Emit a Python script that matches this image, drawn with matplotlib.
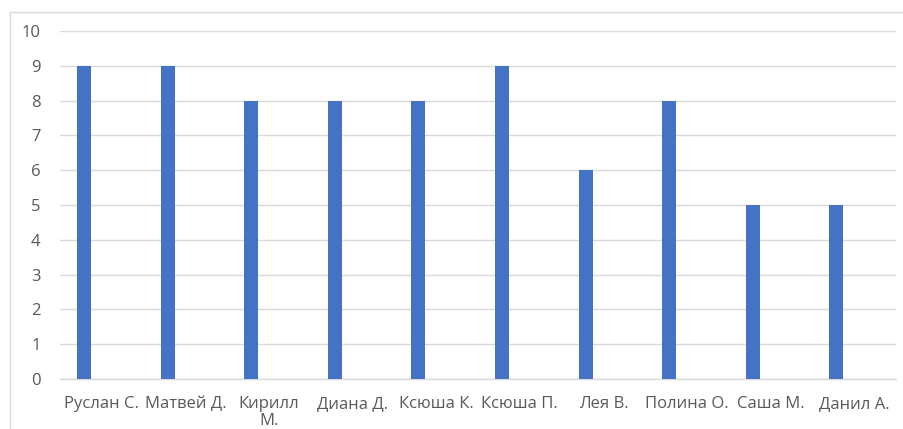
import matplotlib
matplotlib.use("Agg")
import matplotlib.pyplot as plt
from matplotlib.lines import Line2D
import numpy as np

categories = ["Руслан С.", "Матвей Д.", "Кирилл\nМ.", "Диана Д.", "Ксюша К.",
              "Ксюша П.", "Лея В.", "Полина О.", "Саша М.", "Данил А."]
values = [9, 9, 8, 8, 8, 9, 6, 8, 5, 5]
yticks = [0, 1, 2, 3, 4, 5, 6, 7, 8, 9, 10]

plt.rcParams['font.family'] = ['Open Sans', 'DejaVu Sans']

W, H = 904, 429
fig = plt.figure(figsize=(W/100, H/100), dpi=100)
ax = fig.add_axes([60/W, 1-379/H, (896-60)/W, (379-31)/H])

x = np.arange(len(categories))
ax.bar(x - 0.213, values, width=0.167, color="#4472C4", zorder=3)

ax.set_xlim(-0.5, len(categories)-0.5)
ax.set_ylim(0, 10)
ax.set_yticks(yticks)
ax.set_yticklabels([str(t) for t in yticks])
ax.set_xticks(x)
ax.set_xticklabels(categories, linespacing=1.1)
ax.yaxis.grid(True, color="#d9d9d9", linewidth=1.0, zorder=0)
ax.xaxis.grid(False)
for s in ["top", "right", "left"]:
    ax.spines[s].set_visible(False)
ax.spines["bottom"].set_color("#d9d9d9")
ax.spines["bottom"].set_linewidth(1.0)
ax.tick_params(axis="both", length=0, colors="#595959", labelsize=12)
ax.tick_params(axis="y", pad=14)
ax.tick_params(axis="x", pad=12)

# chart border (partially visible)
fig.add_artist(Line2D([10/W, 10/W], [0, 1-12/H], transform=fig.transFigure, color="#d9d9d9", lw=1))
fig.add_artist(Line2D([10/W, 1], [1-12/H, 1-12/H], transform=fig.transFigure, color="#d9d9d9", lw=1))

fig.savefig("out.png", dpi=100, facecolor="white")
